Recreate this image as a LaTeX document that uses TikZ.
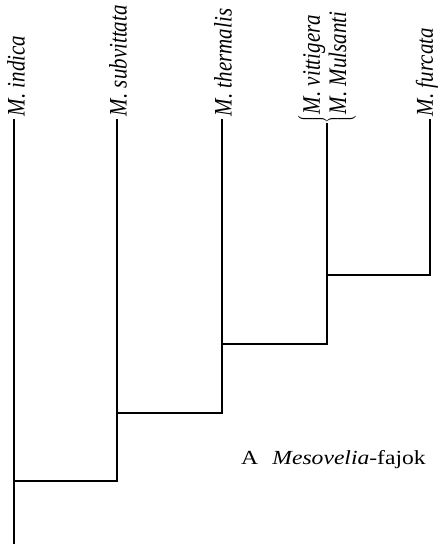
\documentclass[tikz,border=0pt]{standalone}
\usepackage{fontspec}
\setmainfont{Liberation Serif}
\usepackage{graphicx}
\begin{document}
\begin{tikzpicture}[x=1pt,y=-1pt,
  branch/.style={line width=2pt, line cap=rect},
  taxon/.style={rotate=90, anchor=west, inner sep=0pt, outer sep=4pt, font=\fontsize{21}{25}\selectfont\itshape},
  caption/.style={anchor=base west, inner sep=0pt, font=\fontsize{20}{24}\selectfont}]
\useasboundingbox (0,0) rectangle (439,544);
% tips and junctions
\coordinate (t1) at (14,120);
\coordinate (t2) at (117,120);
\coordinate (t3) at (222,120);
\coordinate (t4) at (327,124);
\coordinate (t5) at (430,120);
\coordinate (n4) at (327,275);
\coordinate (n3) at (222,344);
\coordinate (n2) at (117,413);
\coordinate (n1) at (14,481);
\coordinate (root) at (14,544);
% labels
\node[taxon] (ind) at ([xshift=2pt]t1) {\scalebox{1}[1.2]{M. indica}};
\node[taxon] (sub) at ([xshift=1pt]t2) {\scalebox{1}[1.2]{M. subvittata}};
\node[taxon] (the) at ([xshift=1pt]t3) {\scalebox{1}[1.2]{M. thermalis}};
\node[taxon, outer sep=1pt] (pair) at (t4) {\scalebox{1}[1.2]{$\left\{\mbox{\begin{tabular}{@{}l@{}}M. vittigera\\[-3pt] M. Mulsanti\end{tabular}}\right.$}};
\node[taxon] (fur) at ([xshift=-3pt]t5) {\scalebox{1}[1.15]{M. furcata}};
% tree
\draw[branch] (t5) |- (n4);
\draw[branch] (t4) |- (n3);
\draw[branch] (t3) |- (n2);
\draw[branch] (t2) |- (n1);
\draw[branch] (t1) -- (root);
% caption
\node[caption] (cap) at (241,464) {\scalebox{1.18}[1]{A\hspace{0.6em}\textit{Mesovelia}-fajok}};
\end{tikzpicture}
\end{document}
